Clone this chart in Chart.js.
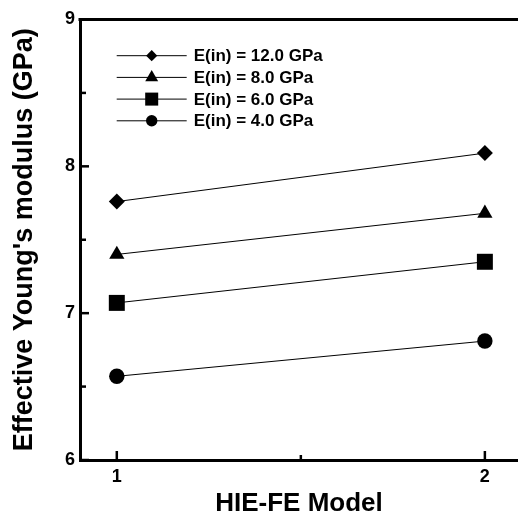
<!DOCTYPE html>
<html>
<head>
<meta charset="utf-8">
<script src="https://cdn.jsdelivr.net/npm/chart.js@4/dist/chart.umd.min.js"></script>
<style>
  html, body { margin: 0; padding: 0; background: #fff; overflow: hidden; }
  canvas { display: block; }
</style>
</head>
<body>
<canvas id="c" width="518" height="519"></canvas>
<script>
// HIE-FE model number on the x axis
const models = [1, 2];
// Effective Young's modulus (GPa) for each inclusion modulus E(in)
const e12 = [7.76, 8.09];
const e8 = [7.40, 7.68];
const e6 = [7.07, 7.35];
const e4 = [6.57, 6.81];
const seriesLabels = ['E(in) = 12.0 GPa', 'E(in) = 8.0 GPa', 'E(in) = 6.0 GPa', 'E(in) = 4.0 GPa'];
// tick positions (major ones get a label, half steps are minor marks)
const yTicks = [6, 6.5, 7, 7.5, 8, 8.5, 9];
const xTicks = [1, 1.5, 2];
const xTitle = 'HIE-FE Model';
const yTitle = "Effective Young's modulus (GPa)";

const FONT = "'Liberation Sans', Arial, Helvetica, sans-serif";

const seriesValues = [e12, e8, e6, e4];
const markers = [
  { style: 'rectRot',  radius: 8.0,  legendRadius: 5.6 },
  { style: 'triangle', radius: 8.8,  legendRadius: 7.5 },
  { style: 'rect',     radius: 11.3, legendRadius: 9.2 },
  { style: 'circle',   radius: 7.7,  legendRadius: 5.7 }
];

const datasets = seriesValues.map((vals, i) => ({
  label: seriesLabels[i],
  data: models.map((m, j) => ({ x: m, y: vals[j] })),
  borderColor: '#000',
  borderWidth: 1,
  backgroundColor: '#000',
  pointBackgroundColor: '#000',
  pointBorderWidth: 0,
  pointStyle: markers[i].style,
  pointRadius: markers[i].radius,
  pointHoverRadius: markers[i].radius,
  legendRadius: markers[i].legendRadius,
  fill: false,
  tension: 0,
  clip: false
}));

const isMajor = v => Math.abs(v - Math.round(v)) < 1e-9;

// inward tick marks, top frame line and the in-plot legend
const framePlugin = {
  id: 'frame',
  afterDraw(chart) {
    const { ctx, chartArea: a, scales } = chart;
    ctx.save();
    ctx.strokeStyle = '#000';
    ctx.lineCap = 'butt';

    // top frame edge
    ctx.lineWidth = 3;
    ctx.beginPath();
    ctx.moveTo(a.left - 1.5, a.top);
    ctx.lineTo(a.right, a.top);
    ctx.stroke();

    // y ticks pointing into the plot
    ctx.lineWidth = 2.5;
    scales.y.ticks.forEach(t => {
      const y = scales.y.getPixelForValue(t.value);
      const len = isMajor(t.value) ? 9 : 6;
      ctx.beginPath();
      ctx.moveTo(a.left, y);
      ctx.lineTo(a.left + len, y);
      ctx.stroke();
    });
    // x ticks pointing up into the plot
    scales.x.ticks.forEach(t => {
      const x = scales.x.getPixelForValue(t.value);
      const len = isMajor(t.value) ? 9 : 5;
      ctx.beginPath();
      ctx.moveTo(x, a.bottom);
      ctx.lineTo(x, a.bottom - len);
      ctx.stroke();
    });

    // legend: short line with centred marker, then label
    const lx0 = 116.7, lx1 = 186.7, mx = 151.7, tx = 192.7;
    const y0 = 55.7, dy = 21.7;
    ctx.font = 'bold 17px ' + FONT;
    ctx.textBaseline = 'middle';
    ctx.textAlign = 'left';
    chart.data.datasets.forEach((ds, i) => {
      const y = y0 + i * dy;
      ctx.strokeStyle = '#000';
      ctx.lineWidth = 1;
      ctx.beginPath();
      ctx.moveTo(lx0, y);
      ctx.lineTo(lx1, y);
      ctx.stroke();
      ctx.fillStyle = '#000';
      Chart.helpers.drawPoint(ctx, {
        pointStyle: ds.pointStyle,
        rotation: 0,
        radius: ds.legendRadius,
        borderWidth: 0
      }, mx, y);
      ctx.fillStyle = '#000';
      ctx.fillText(ds.label, tx + 1, y + 1);
    });
    ctx.restore();
  }
};

new Chart(document.getElementById('c'), {
  type: 'line',
  data: { datasets },
  options: {
    responsive: false,
    devicePixelRatio: 1,
    animation: false,
    events: [],
    layout: { autoPadding: false, padding: { top: 19.5, left: 0, right: 0, bottom: 0 } },
    plugins: { legend: { display: false }, tooltip: { enabled: false } },
    scales: {
      x: {
        type: 'linear',
        min: 0.9,
        max: 2.09,
        afterBuildTicks: s => { s.ticks = xTicks.map(v => ({ value: v })); },
        afterFit: s => { s.height = 59; s.paddingLeft = 0; s.paddingRight = 0; },
        grid: { display: false, drawTicks: false },
        border: { display: true, color: '#000', width: 3 },
        ticks: {
          color: '#000',
          padding: 6,
          maxRotation: 0,
          autoSkip: false,
          font: { family: FONT, size: 18, weight: 'bold' },
          callback: v => isMajor(v) ? String(Math.round(v)) : ''
        },
        title: {
          display: true,
          text: xTitle,
          color: '#000',
          padding: { top: 0, bottom: 0 },
          font: { family: FONT, size: 26, weight: 'bold' }
        }
      },
      y: {
        type: 'linear',
        min: 6,
        max: 9,
        afterBuildTicks: s => { s.ticks = yTicks.map(v => ({ value: v })); },
        afterFit: s => { s.width = 80; },
        grid: { display: false, drawTicks: false },
        border: { display: true, color: '#000', width: 3 },
        ticks: {
          color: '#000',
          padding: 5,
          autoSkip: false,
          font: { family: FONT, size: 18, weight: 'bold' },
          callback: v => isMajor(v) ? String(Math.round(v)) : ''
        },
        title: {
          display: true,
          text: yTitle,
          color: '#000',
          padding: { top: 8, bottom: 0 },
          font: { family: FONT, size: 27, weight: 'bold' }
        }
      }
    }
  },
  plugins: [framePlugin]
});
</script>
</body>
</html>
